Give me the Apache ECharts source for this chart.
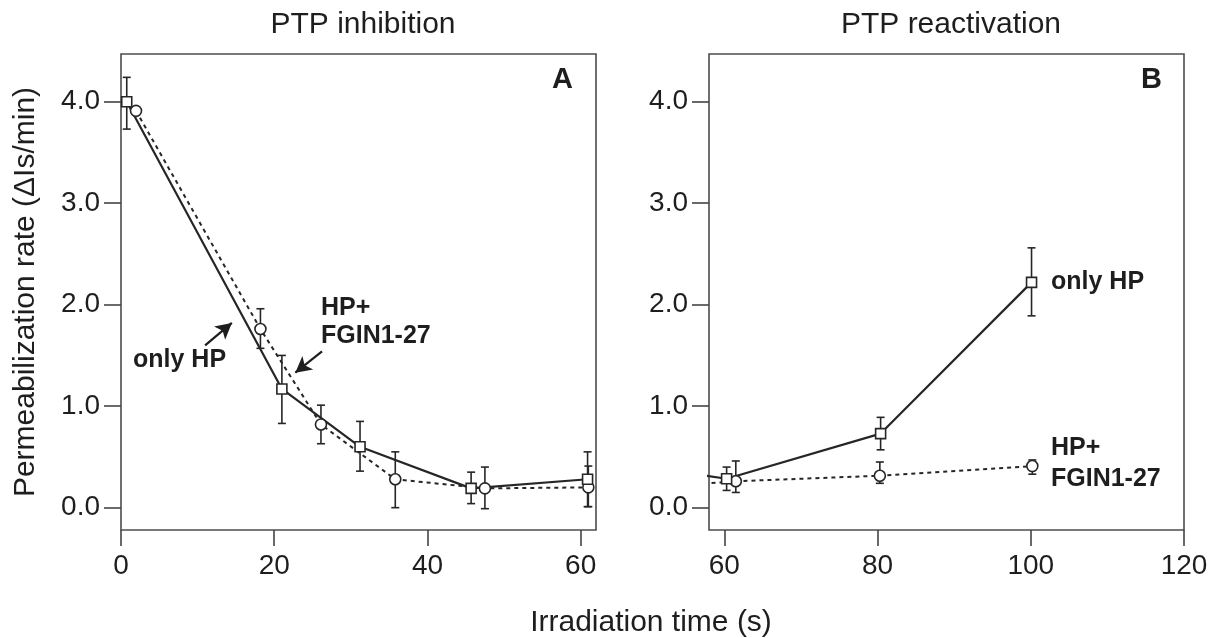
<!DOCTYPE html>
<html>
<head>
<meta charset="utf-8">
<title>PTP inhibition / reactivation</title>
<script src="https://cdn.jsdelivr.net/npm/echarts@6/dist/echarts.min.js"></script>
<style>
  html, body { margin: 0; padding: 0; background: #fff; }
  #chart { width: 1211px; height: 638px; }
</style>
</head>
<body>
<div id="chart"></div>
<script>
// panel A - PTP inhibition
var xA_onlyHP = [0.75, 21.0, 31.2, 45.7, 60.9];
var yA_onlyHP = [4.00, 1.17, 0.60, 0.19, 0.28];
var loA_onlyHP = [3.73, 0.83, 0.36, 0.04, 0.01];
var hiA_onlyHP = [4.24, 1.50, 0.85, 0.35, 0.55];

var xA_fgin = [1.96, 18.2, 26.1, 35.8, 47.5, 61.0];
var yA_fgin = [3.91, 1.76, 0.82, 0.28, 0.19, 0.20];
var loA_fgin = [3.91, 1.57, 0.63, 0.00, -0.01, 0.01];
var hiA_fgin = [3.91, 1.96, 1.01, 0.55, 0.40, 0.41];

// panel B - PTP reactivation (first point lies left of the axis, only its segment shows)
var xB_onlyHP = [50, 60.3, 80.4, 100.1];
var yB_onlyHP = [0.40, 0.285, 0.73, 2.22];
var loB_onlyHP = [0.40, 0.17, 0.57, 1.89];
var hiB_onlyHP = [0.40, 0.40, 0.89, 2.56];

var xB_fgin = [50, 61.5, 80.3, 100.2];
var yB_fgin = [0.195, 0.26, 0.315, 0.41];
var loB_fgin = [0.195, 0.15, 0.24, 0.33];
var hiB_fgin = [0.195, 0.46, 0.45, 0.47];

var yTicks = [0, 1, 2, 3, 4];
var xTicksA = [0, 20, 40, 60];
var xTicksB = [60, 80, 100, 120];

var FONT = "'Liberation Sans', Arial, Helvetica, sans-serif";
var INK = '#1e1e1e';
var LINE = '#262626';

function pts(xs, ys) {
    return xs.map(function (x, i) { return [x, ys[i]]; });
}
function bars(xs, lo, hi) {
    return xs.map(function (x, i) { return [x, lo[i], hi[i]]; });
}

function errorBars(data, axis) {
    return {
        type: 'custom',
        xAxisIndex: axis,
        yAxisIndex: axis,
        z: 1,
        silent: true,
        encode: { x: 0, y: [1, 2] },
        data: data,
        renderItem: function (params, api) {
            var x = api.value(0), lo = api.value(1), hi = api.value(2);
            if (hi - lo < 0.001) return;
            var top = api.coord([x, hi]);
            var bot = api.coord([x, lo]);
            var w = 4;
            var st = { stroke: LINE, lineWidth: 1.6 };
            return {
                type: 'group',
                children: [
                    { type: 'line', shape: { x1: top[0], y1: top[1], x2: bot[0], y2: bot[1] }, style: st },
                    { type: 'line', shape: { x1: top[0] - w, y1: top[1], x2: top[0] + w, y2: top[1] }, style: st },
                    { type: 'line', shape: { x1: bot[0] - w, y1: bot[1], x2: bot[0] + w, y2: bot[1] }, style: st }
                ]
            };
        }
    };
}

function lineSeries(data, axis, symbol, dashed, extra) {
    var s = {
        type: 'line',
        xAxisIndex: axis,
        yAxisIndex: axis,
        z: 3,
        data: data.map(function (p) {
            // points outside the axis range carry no marker
            if (axis === 1 && p[0] < 58) return { value: p, symbol: 'none' };
            return p;
        }),
        symbol: symbol,
        symbolSize: symbol === 'rect' ? 10 : 11,
        showAllSymbol: true,
        clip: true,
        itemStyle: { color: '#fff', borderColor: LINE, borderWidth: 1.6 },
        lineStyle: { color: LINE, width: dashed ? 2 : 2.2, type: dashed ? [4, 4] : 'solid' },
        emphasis: { disabled: true },
        animation: false
    };
    for (var k in extra) s[k] = extra[k];
    return s;
}

function xAxis(idx, min, max, ticks) {
    return {
        type: 'value',
        gridIndex: idx,
        min: min,
        max: max,
        axisLine: { show: false, onZero: false },
        splitLine: { show: false },
        axisTick: { show: true, inside: false, length: 16, customValues: ticks, lineStyle: { color: '#444', width: 1.6 } },
        axisLabel: { customValues: ticks, margin: 22, fontSize: 28, color: INK, fontFamily: FONT }
    };
}
function yAxis(idx) {
    return {
        type: 'value',
        gridIndex: idx,
        min: -0.22,
        max: 4.47,
        axisLine: { show: false, onZero: false },
        splitLine: { show: false },
        axisTick: { show: true, inside: false, length: 17, customValues: yTicks, lineStyle: { color: '#444', width: 1.6 } },
        axisLabel: {
            customValues: yTicks, margin: 21, fontSize: 28, color: INK, fontFamily: FONT,
            formatter: function (v) { return v.toFixed(1); }
        }
    };
}

var chart = echarts.init(document.getElementById('chart'));

var yA = yAxis(0);
yA.name = 'Permeabilization rate (\u0394Is/min)';
yA.nameLocation = 'middle';
yA.nameGap = 80;
yA.nameTextStyle = { fontSize: 30, color: INK, fontFamily: FONT };

var arrowStyle = { color: INK, width: 2.2, type: 'solid' };

var option = {
    backgroundColor: '#fff',
    animation: false,
    title: [
        { text: 'PTP inhibition', left: 358, top: 5, textAlign: 'center',
          textStyle: { fontSize: 30, fontWeight: 'normal', color: INK, fontFamily: FONT } },
        { text: 'PTP reactivation', left: 946, top: 5, textAlign: 'center',
          textStyle: { fontSize: 30, fontWeight: 'normal', color: INK, fontFamily: FONT } }
    ],
    grid: [
        { left: 121, right: 615, top: 54, height: 476, show: true, borderColor: '#4d4d4d', borderWidth: 1.6 },
        { left: 709, right: 27, top: 54, height: 476, show: true, borderColor: '#4d4d4d', borderWidth: 1.6 }
    ],
    xAxis: [xAxis(0, 0, 62, xTicksA), xAxis(1, 58, 120, xTicksB)],
    yAxis: [yA, yAxis(1)],
    series: [
        errorBars(bars(xA_onlyHP, loA_onlyHP, hiA_onlyHP), 0),
        errorBars(bars(xA_fgin, loA_fgin, hiA_fgin), 0),
        errorBars(bars(xB_onlyHP, loB_onlyHP, hiB_onlyHP), 1),
        errorBars(bars(xB_fgin, loB_fgin, hiB_fgin), 1),
        lineSeries(pts(xA_fgin, yA_fgin), 0, 'circle', true, {}),
        lineSeries(pts(xA_onlyHP, yA_onlyHP), 0, 'rect', false, {
            markLine: {
                silent: true,
                symbol: ['none', 'arrow'],
                symbolSize: [13, 16],
                label: { show: false },
                lineStyle: arrowStyle,
                data: [
                    [{ coord: [10.98, 1.60] }, { coord: [14.47, 1.82] }],
                    [{ coord: [26.24, 1.54] }, { coord: [22.75, 1.33] }]
                ]
            }
        }),
        lineSeries(pts(xB_fgin, yB_fgin), 1, 'circle', true, {}),
        lineSeries(pts(xB_onlyHP, yB_onlyHP), 1, 'rect', false, {})
    ],
    graphic: [
        { type: 'text', x: 133, y: 360, style: { text: 'only HP', font: 'bold 25px ' + FONT, fill: INK, textVerticalAlign: 'middle' } },
        { type: 'text', x: 321, y: 308, style: { text: 'HP+', font: 'bold 25px ' + FONT, fill: INK, textVerticalAlign: 'middle' } },
        { type: 'text', x: 321, y: 336, style: { text: 'FGIN1-27', font: 'bold 25px ' + FONT, fill: INK, textVerticalAlign: 'middle' } },
        { type: 'text', x: 1051, y: 282, style: { text: 'only HP', font: 'bold 25px ' + FONT, fill: INK, textVerticalAlign: 'middle' } },
        { type: 'text', x: 1051, y: 448, style: { text: 'HP+', font: 'bold 25px ' + FONT, fill: INK, textVerticalAlign: 'middle' } },
        { type: 'text', x: 1051, y: 479, style: { text: 'FGIN1-27', font: 'bold 25px ' + FONT, fill: INK, textVerticalAlign: 'middle' } },
        { type: 'text', x: 552, y: 80, style: { text: 'A', font: 'bold 29px ' + FONT, fill: INK, textVerticalAlign: 'middle' } },
        { type: 'text', x: 1141, y: 80, style: { text: 'B', font: 'bold 29px ' + FONT, fill: INK, textVerticalAlign: 'middle' } },
        { type: 'text', x: 651, y: 623, style: { text: 'Irradiation time (s)', font: '30px ' + FONT, fill: INK, textAlign: 'center', textVerticalAlign: 'middle' } }
    ]
};

chart.setOption(option);
</script>
</body>
</html>
